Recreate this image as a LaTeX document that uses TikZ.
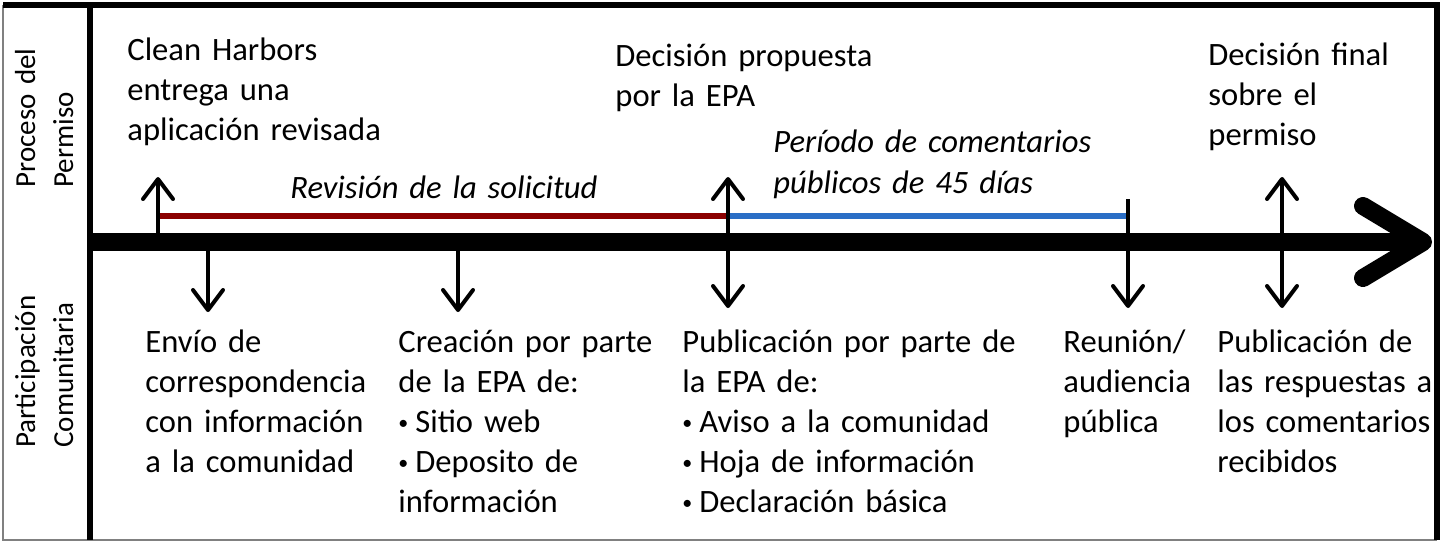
\documentclass[tikz,border=0pt]{standalone}
\usepackage{fontspec}
\setmainfont{Carlito}[WordSpace=0.75]
\usetikzlibrary{arrows.meta, positioning}
\definecolor{revred}{HTML}{8B0000}
\definecolor{comblue}{HTML}{2A6EC6}
\newcommand{\bul}{\makebox[8.5pt][l]{\raisebox{1.5pt}{\fontsize{10}{10}\selectfont\textbullet}}}

\begin{document}
\begin{tikzpicture}[
  x=0.5pt, y=-0.5pt,
  txt/.style={
    anchor=base west,
    inner sep=0pt,
    text width=200pt,
    align=left,
    font=\fontsize{16.3}{20}\selectfont
  },
  note/.style={
    txt,
    font=\fontsize{16.3}{20.5}\selectfont\itshape
  },
  lane/.style={
    rotate=90,
    anchor=base west,
    inner sep=0pt,
    text width=120pt,
    align=left,
    font=\fontsize{14.5}{19}\selectfont
  },
  timeline/.style={line width=9pt, -{Straight Barb[length=30pt, width=36pt, round]}},
  phase/.style={line width=3pt},
  event/.style={line width=2pt, -{Straight Barb[length=10pt, width=15pt, round]}},
  both/.style={line width=2pt, {Straight Barb[length=10pt, width=15pt, round]}-{Straight Barb[length=10pt, width=15pt, round]}}
]
  \useasboundingbox (0,0) rectangle (1443,542);

  % Frame
  \draw[gray, line width=1pt] (3,5) -- (3,540) -- (1437,540);
  \draw[line width=3pt] (3,5) -- (1437,5) -- (1437,540);
  \draw[line width=3pt] (90,5) -- (90,540);

  % Lanes
  \node[lane] (permiso) at (35,188) {Proceso del\\Permiso};
  \node[lane] (comunidad) at (35,448) {Participación\\Comunitaria};

  % Timeline
  \coordinate (start) at (90,242);
  \coordinate (end) at (1432,242);
  \draw[timeline] (start) -- (end);

  % Phases
  \coordinate (rev0) at (158,216);
  \coordinate (rev1) at (728,216);
  \coordinate (com1) at (1128,216);
  \draw[phase, revred] (rev0) -- (rev1);
  \draw[phase, comblue] (rev1) -- (com1);
  \node[note] (revision) at (290,198) {Revisión de la solicitud};
  \node[note] (periodo) at (773,152) {Período de comentarios\\públicos de 45 días};

  % Permit process
  \node[txt] (harbors) at (127,60) {Clean Harbors\\entrega una\\aplicación revisada};
  \node[txt] (propuesta) at (615,66) {Decisión propuesta\\por la EPA};
  \node[txt] (final) at (1208,65) {Decisión final\\sobre el\\permiso};

  % Community participation
  \node[txt] (envio) at (145,352) {Envío de\\correspondencia\\con información\\a la comunidad};
  \node[txt] (creacion) at (398,352) {Creación por parte\\de la EPA de:\\\bul Sitio web\\\bul Deposito de\\información};
  \node[txt] (publicacion) at (682,352) {Publicación por parte de\\la EPA de:\\\bul Aviso a la comunidad\\\bul Hoja de información\\\bul Declaración básica};
  \node[txt] (reunion) at (1063,352) {Reunión/\\audiencia\\pública};
  \node[txt] (respuestas) at (1217,352) {Publicación de\\las respuestas a\\los comentarios\\recibidos};

  % Event markers
  \coordinate (e1a) at (158,242);
  \coordinate (e1b) at (158,177);
  \coordinate (e2a) at (208,242);
  \coordinate (e2b) at (208,312);
  \coordinate (e3a) at (458,242);
  \coordinate (e3b) at (458,312);
  \coordinate (e4a) at (728,177);
  \coordinate (e4b) at (728,308);
  \coordinate (e5a) at (1128,199);
  \coordinate (e5b) at (1128,308);
  \coordinate (e6a) at (1282,177);
  \coordinate (e6b) at (1282,308);
  \draw[event] (e1a) -- (e1b);
  \draw[event] (e2a) -- (e2b);
  \draw[event] (e3a) -- (e3b);
  \draw[both] (e4a) -- (e4b);
  \draw[event] (e5a) -- (e5b);
  \draw[both] (e6a) -- (e6b);
\end{tikzpicture}
\end{document}
